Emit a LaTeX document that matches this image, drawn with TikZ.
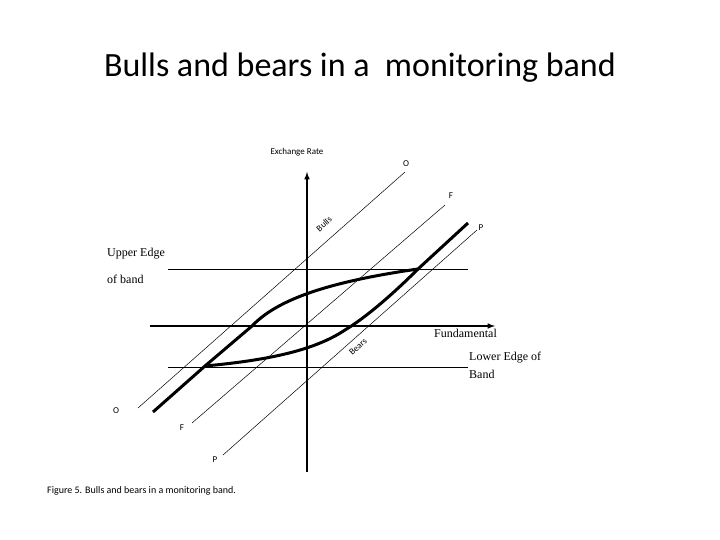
\documentclass[tikz,border=0pt]{standalone}
\usepackage{fontspec}
\setmainfont{Carlito}
\newfontfamily\serifx{Liberation Serif}
\begin{document}
\begin{tikzpicture}[x=1pt,y=-1pt,
  thin line/.style={line width=0.5pt},
  thick curve/.style={line width=3pt,line join=round},
  lab/.style={font=\fontsize{9}{10}\selectfont,inner sep=0pt},
  slab/.style={font=\serifx\fontsize{12}{12}\selectfont,inner sep=0pt,anchor=west}]
\useasboundingbox (0,0) rectangle (720,540);
\node[font=\fontsize{34}{36}\selectfont] (title) at (360,68) {Bulls and bears in a\ \ monitoring band};
% axes
\coordinate (yb) at (307,472); \coordinate (yt) at (307,172);
\coordinate (xl) at (150,326); \coordinate (xr) at (495,326);
\draw[line width=1.5pt,-latex] (yb) -- (yt);
\draw[line width=1.5pt,-latex] (xl) -- (xr);
% band edges
\coordinate (ul) at (168,269); \coordinate (ur) at (468,269);
\coordinate (ll) at (168,367); \coordinate (lr) at (468,367);
\draw[thin line] (ul) -- (ur);
\draw[thin line] (ll) -- (lr);
% diagonals
\coordinate (o1) at (138,408); \coordinate (o2) at (405,172);
\coordinate (f1) at (192,423); \coordinate (f2) at (445,205);
\coordinate (p1) at (223,455); \coordinate (p2) at (477,230);
\draw[thin line] (o1) -- (o2);
\draw[thin line] (f1) -- (f2);
\draw[thin line] (p1) -- (p2);
% thick curves
\draw[thick curve] (153,412) -- (205,366) -- (252,326)
  .. controls (275,302) and (320,283) .. (418,269) -- (468,223);
\draw[thick curve] (205,366) .. controls (270,360) and (315,350) .. (345,330)
  .. controls (370,315) and (400,287) .. (418,269);
% labels
\node[lab] (er) at (297,152) {Exchange Rate};
\node[lab] (oa) at (406,164) {O};
\node[lab] (fa) at (451,196) {F};
\node[lab] (pa) at (481,228) {P};
\node[lab] (ob) at (116,411) {O};
\node[lab] (fb) at (182,428) {F};
\node[lab] (pb) at (215,460) {P};
\node[lab,rotate=42] (bulls) at (324,224) {Bulls};
\node[lab,rotate=42] (bears) at (358,347) {Bears};
\node[slab] (ue) at (107,254) {Upper Edge};
\node[slab] (ob2) at (107,279) {of band};
\node[slab] (fu) at (434,333) {Fundamental};
\node[slab] (le) at (469,358) {Lower Edge of};
\node[slab] (bd) at (469,374) {Band};
\node[lab,anchor=west,font=\fontsize{10}{11}\selectfont] (cap) at (47,491) {Figure 5. Bulls and bears in a monitoring band.};
\end{tikzpicture}
\end{document}
